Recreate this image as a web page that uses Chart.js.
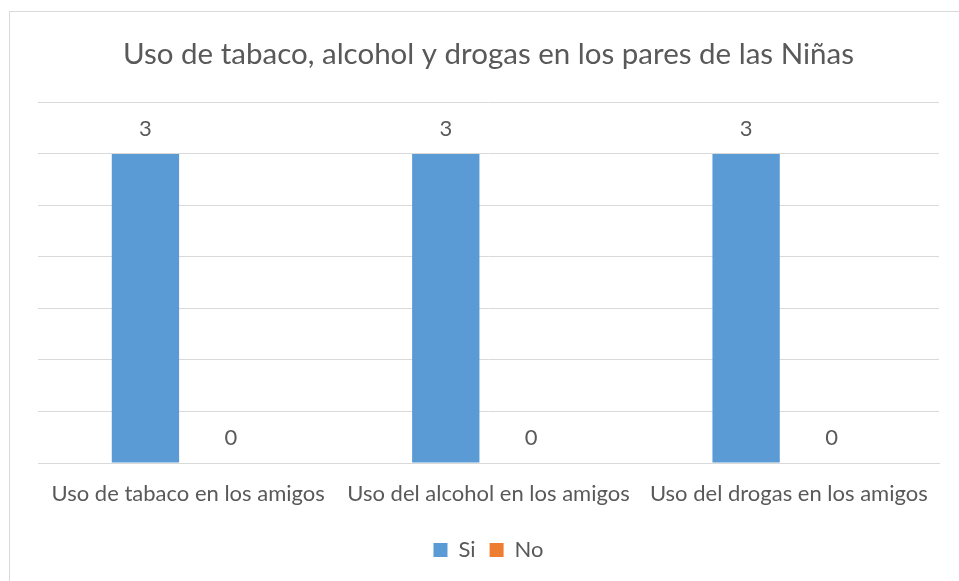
<!DOCTYPE html>
<html lang="es">
<head>
    <meta charset="UTF-8">
    <title>Uso de tabaco, alcohol y drogas en los pares de las Niñas</title>
    <script src="https://cdn.jsdelivr.net/npm/chart.js"></script>
    <style>
        html, body { margin: 0; padding: 0; background: #fff; }
        #wrap { width: 959px; height: 581px; position: relative; }
    </style>
</head>
<body>
    <div id="wrap"><canvas id="chart"></canvas></div>

    <script>
        const categories = ['Uso de tabaco en los amigos', 'Uso del alcohol en los amigos', 'Uso del drogas en los amigos'];
        const siValues = [3, 3, 3];
        const noValues = [0, 0, 0];
        const yMax = 3.5;
        const yStep = 0.5;

        const textColor = '#595959';
        const gridColor = '#D9D9D9';
        const fontFamily = 'Lato, "Open Sans", sans-serif';

        // frame around the whole chart, like the office export
        const frame = {
            id: 'frame',
            beforeDraw(chart) {
                const ctx = chart.ctx;
                ctx.save();
                ctx.strokeStyle = gridColor;
                ctx.lineWidth = 1;
                ctx.strokeRect(9.5, 11.5, 1000, 1000);
                ctx.restore();
            }
        };

        // value labels above each bar
        const valueLabels = {
            id: 'valueLabels',
            afterDatasetsDraw(chart) {
                const ctx = chart.ctx;
                ctx.save();
                ctx.fillStyle = textColor;
                ctx.font = '22px ' + fontFamily;
                ctx.textAlign = 'center';
                ctx.textBaseline = 'middle';
                chart.data.datasets.forEach((ds, i) => {
                    chart.getDatasetMeta(i).data.forEach((bar, j) => {
                        ctx.fillText(String(ds.data[j]), bar.x, bar.y - 25);
                    });
                });
                ctx.restore();
            }
        };

        new Chart(document.getElementById('chart'), {
            type: 'bar',
            data: {
                labels: categories,
                datasets: [
                    { label: 'Si', data: siValues, backgroundColor: '#5B9BD5' },
                    { label: 'No', data: noValues, backgroundColor: '#ED7D31' }
                ]
            },
            options: {
                responsive: true,
                maintainAspectRatio: false,
                animation: false,
                datasets: {
                    bar: { categoryPercentage: 0.569, barPercentage: 0.788 }
                },
                layout: { padding: { left: 38, right: 20, top: 0, bottom: 10 } },
                scales: {
                    x: {
                        grid: { display: false },
                        border: { display: true, color: gridColor, width: 1 },
                        ticks: {
                            color: textColor,
                            font: { family: fontFamily, size: 22 },
                            padding: 10,
                            maxRotation: 0,
                            autoSkip: false
                        },
                        afterFit(scale) { scale.height = 62; }
                    },
                    y: {
                        min: 0,
                        max: yMax,
                        ticks: { display: false, stepSize: yStep },
                        grid: { color: gridColor, drawTicks: false },
                        border: { display: false }
                    }
                },
                plugins: {
                    title: {
                        display: true,
                        text: 'Uso de tabaco, alcohol y drogas en los pares de las Niñas',
                        color: textColor,
                        font: { family: fontFamily, size: 29.5, weight: 'normal' },
                        padding: { top: 37, bottom: 30 }
                    },
                    legend: {
                        position: 'bottom',
                        labels: {
                            color: textColor,
                            font: { family: fontFamily, size: 22 },
                            boxWidth: 14,
                            boxHeight: 14,
                            padding: 14
                        }
                    },
                    tooltip: { enabled: false }
                }
            },
            plugins: [frame, valueLabels]
        });
    </script>
</body>
</html>
